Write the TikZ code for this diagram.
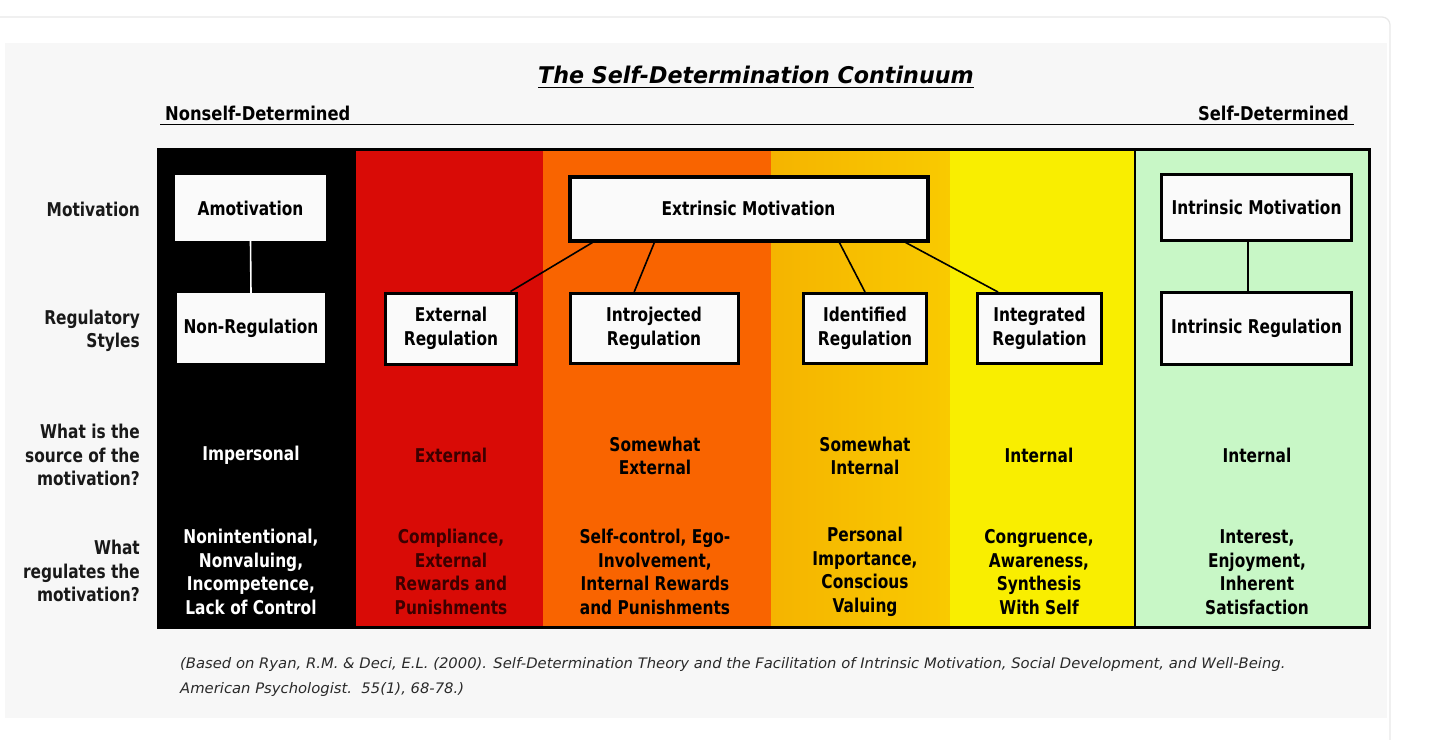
\documentclass[tikz,border=0pt]{standalone}
\usepackage{fontspec}
\setmainfont{DejaVu Sans}[FakeStretch=0.81]
\newfontfamily\headfont{DejaVu Sans}[FakeStretch=0.86]
\newfontfamily\titlefont{DejaVu Sans}[FakeStretch=0.965]
\newfontfamily\citefont{DejaVu Sans}[FakeStretch=1.02]
\usetikzlibrary{calc}
\definecolor{panelgray}{HTML}{F7F7F7}
\definecolor{cardline}{HTML}{E8E8E8}
\definecolor{colred}{HTML}{D90B06}
\definecolor{colorange}{HTML}{F96400}
\definecolor{colgoldL}{HTML}{F5B400}
\definecolor{colgoldR}{HTML}{F9CA00}
\definecolor{colyellow}{HTML}{F9EE00}
\definecolor{colgreen}{HTML}{C8F7C6}
\definecolor{darkred}{HTML}{3C0000}
\definecolor{boxwhite}{HTML}{FAFAFA}
\definecolor{citegray}{HTML}{2A2A2A}
\tikzset{
  txt/.style={font=\bfseries\fontsize{19}{23.5}\selectfont, align=center, inner sep=0pt},
  sidelbl/.style={txt, align=right, anchor=east, text=black!90},
  regbox/.style={txt, draw=black, fill=boxwhite, line width=3pt, text=black},
  plainbox/.style={txt, fill=boxwhite, text=black},
  conn/.style={draw=black, line width=1.6pt},
  headlbl/.style={font=\headfont\bfseries\fontsize{19}{22}\selectfont, inner sep=0pt},
}
\begin{document}
\begin{tikzpicture}[x=1pt,y=-1pt]
\useasboundingbox (0,0) rectangle (1456,739);
\fill[white] (0,0) rectangle (1456,739);
\draw[cardline, line width=1.2pt, rounded corners=8pt] (-5,17) -- (1390,17) -- (1390,745);
\fill[panelgray] (5,43) rectangle (1387,718);

% title and header
\node[font=\titlefont\bfseries\itshape\fontsize{23}{28}\selectfont, inner sep=0pt, anchor=base] (title) at (756,83) {The Self-Determination Continuum};
\draw[line width=1.5pt] ([yshift=-4.5pt]title.base west) -- ([yshift=-4.5pt]title.base east);
\node[headlbl, anchor=base west] (nsd) at (165,120) {Nonself-Determined};
\node[headlbl, anchor=base east] (sd) at (1349,120) {Self-Determined};
\coordinate (lineL) at (160,124.5);
\coordinate (lineR) at (1354,124.5);
\draw[line width=1.8pt] (lineL) -- (lineR);

% columns
\fill[black] (158,149) rectangle (356,627);
\fill[colred] (356,149) rectangle (543,627);
\fill[colorange] (543,149) rectangle (771,627);
\shade[left color=colgoldL, right color=colgoldR] (771,149) rectangle (950,627);
\fill[colyellow] (950,149) rectangle (1135,627);
\fill[colgreen] (1135,149) rectangle (1369,627);
\draw[line width=3pt] (158,149) rectangle (1369,627);
\draw[line width=1.6pt] (1135,149) -- (1135,627);

% side labels
\node[sidelbl] (lm) at (140,209) {Motivation};
\node[sidelbl] (lr) at (140,331) {Regulatory\\Styles};
\node[sidelbl] (ls) at (140,455) {What is the\\source of the\\motivation?};
\node[sidelbl] (lw) at (140,571) {What\\regulates the\\motivation?};

% boxes
\node[plainbox, minimum width=151pt, minimum height=66pt] (amot) at (250.5,208) {Amotivation};
\node[plainbox, minimum width=148pt, minimum height=70pt] (nonreg) at (251,328) {Non-Regulation};
\node[regbox, line width=4pt, minimum width=358pt, minimum height=64pt] (em) at (748.5,208.5) {Extrinsic Motivation};
\node[regbox, minimum width=131pt, minimum height=71pt] (extreg) at (451,328.5) {External\\Regulation};
\node[regbox, minimum width=168pt, minimum height=70pt] (intro) at (654,328.5) {Introjected\\Regulation};
\node[regbox, minimum width=123pt, minimum height=70pt] (ident) at (865,328.5) {Identified\\Regulation};
\node[regbox, minimum width=124pt, minimum height=70pt] (integ) at (1039.5,328.5) {Integrated\\Regulation};
\node[regbox, minimum width=190pt, minimum height=66pt] (im) at (1256.5,207.5) {Intrinsic Motivation};
\node[regbox, minimum width=190pt, minimum height=72pt] (ir) at (1256.5,328.5) {Intrinsic Regulation};

% connectors
\draw[draw=white, line width=1.6pt] (amot.south) -- (nonreg.north);
\draw[conn] ($(em.south west)!0.069!(em.south east)$) -- ($(extreg.north west)!0.944!(extreg.north east)$);
\draw[conn] ($(em.south west)!0.240!(em.south east)$) -- ($(intro.north west)!0.384!(intro.north east)$);
\draw[conn] ($(em.south west)!0.751!(em.south east)$) -- ($(ident.north west)!0.5!(ident.north east)$);
\draw[conn] ($(em.south west)!0.934!(em.south east)$) -- ($(integ.north west)!0.173!(integ.north east)$);
\coordinate (imc) at ($(im.south west)!0.456!(im.south east)$);
\draw[conn] (imc) -- (imc |- ir.north);

% row 3
\node[txt, text=white] (s1) at (251,455) {Impersonal};
\node[txt, text=darkred] (s2) at (451,455) {External};
\node[txt, text=black] (s3) at (655,456) {Somewhat\\External};
\node[txt, text=black] (s4) at (865,456) {Somewhat\\Internal};
\node[txt, text=black] (s5) at (1039,455) {Internal};
\node[txt, text=black] (s6) at (1257,455) {Internal};

% row 4
\node[txt, text=white] (r1) at (251,572) {Nonintentional,\\Nonvaluing,\\Incompetence,\\Lack of Control};
\node[txt, text=darkred] (r2) at (451,572) {Compliance,\\External\\Rewards and\\Punishments};
\node[txt, text=black] (r3) at (655,572) {Self-control, Ego-\\Involvement,\\Internal Rewards\\and Punishments};
\node[txt, text=black] (r4) at (865,572) {Personal\\Importance,\\Conscious\\Valuing};
\node[txt, text=black] (r5) at (1039,572) {Congruence,\\Awareness,\\Synthesis\\With Self};
\node[txt, text=black] (r6) at (1257,572) {Interest,\\Enjoyment,\\Inherent\\Satisfaction};

% citation
\node[font=\citefont\itshape\fontsize{14.5}{25}\selectfont, text=citegray, align=left, anchor=north west, inner sep=0pt] (cite) at (180,657) {(Based on Ryan, R.M. \& Deci, E.L. (2000). Self-Determination Theory and the Facilitation of Intrinsic Motivation, Social Development, and Well-Being.\\American Psychologist.\ \ 55(1), 68-78.)};
\end{tikzpicture}
\end{document}
